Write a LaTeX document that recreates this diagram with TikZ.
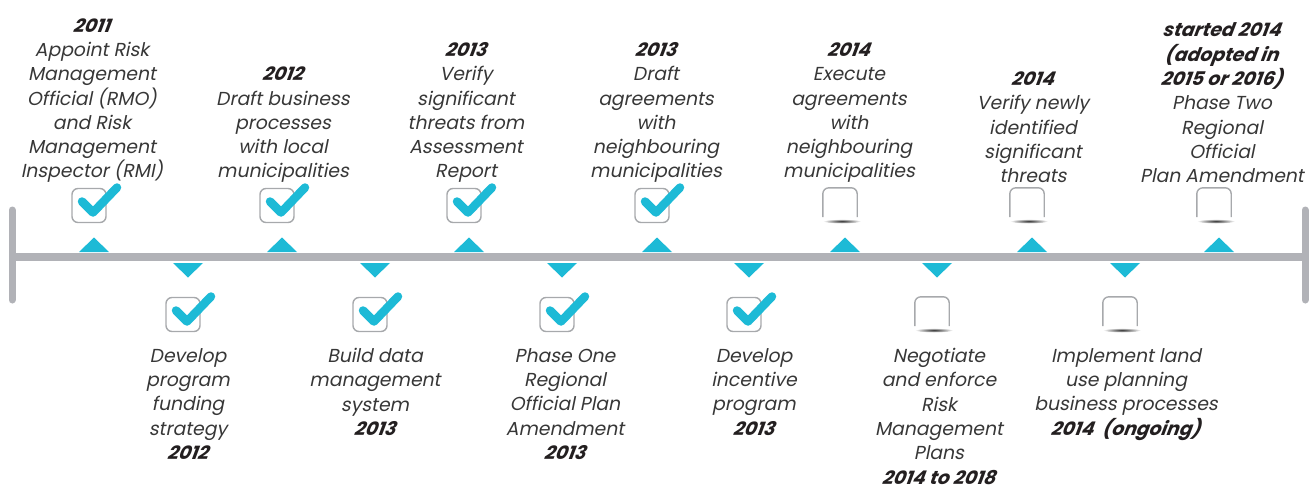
\documentclass[tikz,border=0pt]{standalone}
\usepackage{fontspec}
\setmainfont{Poppins}[AutoFakeSlant=0.2]
\newfontfamily\yrfont{Poppins Bold}[FakeSlant=0.2]
\definecolor{cyanm}{RGB}{29,186,214}
\definecolor{lineg}{RGB}{177,178,183}
\definecolor{boxg}{RGB}{167,169,172}
\definecolor{txt}{RGB}{55,55,55}
\definecolor{yr}{RGB}{35,31,32}
\newcommand{\yrs}[1]{{\yrfont\color{yr}#1}}
\begin{document}
\begin{tikzpicture}[x=1pt,y=-1pt,
  tickbox/.style={draw=boxg, line width=1.4pt, rounded corners=6pt, minimum width=34pt, minimum height=34pt, inner sep=0pt},
  emptybox/.style={minimum width=34pt, minimum height=31pt, inner sep=0pt},
  boxline/.style={draw=boxg, line width=1.4pt, rounded corners=6pt},
  tickmark/.style={draw=cyanm, line width=8.5pt, line cap=round, line join=round},
  lbl/.style={font=\fontsize{18.8}{24.3}\selectfont\itshape, align=center, text=txt, inner sep=0pt},
  marker/.style={fill=cyanm, draw=none},
  bar/.style={draw=lineg, line width=7pt, line cap=round}]
\useasboundingbox (0,0) rectangle (1312,487);
% main line
\coordinate (L) at (12,257);
\coordinate (R) at (1305,257);
\coordinate (Lt) at (12,210);
\coordinate (Lb) at (12,300);
\coordinate (Rt) at (1305,210);
\coordinate (Rb) at (1305,300);
\draw[draw=lineg, line width=8pt] (L) -- (R);
\draw[bar] (Lt) -- (Lb);
\draw[bar] (Rt) -- (Rb);
% upper markers
\foreach \x in {94,282,469,657,845,1032,1219}
  \fill[marker] (\x-15,252) -- (\x+15,252) -- (\x,237.5) -- cycle;
% lower markers
\foreach \x in {188,375,562,749,937,1125}
  \fill[marker] (\x-15,263) -- (\x+15,263) -- (\x,277.5) -- cycle;
% ticked boxes
\foreach \x/\y/\n in {94/205.5/u1,282/205.5/u2,469/205.5/u3,657/205.5/u4,188/314.5/d1,375/314.5/d2,562/314.5/d3,749/314.5/d4}{
  \node[tickbox] (\n) at (\x-5,\y) {};
  \draw[tickmark] ([shift={(-7,-4)}]\n.center) -- ([shift={(4,7)}]\n.center) -- ([shift={(28,-18)}]\n.center);
}
% empty boxes
\foreach \x/\y/\n in {845/203.5/u5,1032/203.5/u6,1219/203.5/u7,937/312.5/d5,1125/312.5/d6}{
  \node[emptybox] (\n) at (\x-5,\y) {};
  \shade[inner color=black!80, outer color=white] ([xshift=2pt,yshift=-2pt]\n.south) ellipse (19pt and 2.3pt);
  \draw[boxline] ([yshift=2pt]\n.south west) -- (\n.north west) -- (\n.north east) -- ([yshift=2pt]\n.south east);
}
% upper labels
\node[lbl, anchor=south] (t1) at (92,183) {\yrs{2011}\\Appoint Risk\\Management\\Official (RMO)\\and Risk\\Management\\Inspector (RMI)};
\node[lbl, anchor=south] (t2) at (283,183) {\yrs{2012}\\Draft business\\processes\\with local\\municipalities};
\node[lbl, anchor=south] (t3) at (466,183) {\yrs{2013}\\Verify\\significant\\threats from\\Assessment\\Report};
\node[lbl, anchor=south] (t4) at (656,183) {\yrs{2013}\\Draft\\agreements\\with\\neighbouring\\municipalities};
\node[lbl, anchor=south] (t5) at (849,183) {\yrs{2014}\\Execute\\agreements\\with\\neighbouring\\municipalities};
\node[lbl, anchor=south] (t6) at (1033,183) {\yrs{2014}\\Verify newly\\identified\\significant\\threats};
\node[lbl, anchor=south] (t7) at (1222,183) {\yrs{started 2014}\\\yrs{(adopted in}\\\yrs{2015 or 2016)}\\Phase Two\\Regional\\Official\\Plan Amendment};
% lower labels
\node[lbl, anchor=north] (b1) at (188,348) {Develop\\program\\funding\\strategy\\\yrs{2012}};
\node[lbl, anchor=north] (b2) at (375,348) {Build data\\management\\system\\\yrs{2013}};
\node[lbl, anchor=north] (b3) at (565,348) {Phase One\\Regional\\Official Plan\\Amendment\\\yrs{2013}};
\node[lbl, anchor=north] (b4) at (754,348) {Develop\\incentive\\program\\\yrs{2013}};
\node[lbl, anchor=north] (b5) at (939,348) {Negotiate\\and enforce\\Risk\\Management\\Plans\\\yrs{2014 to 2018}};
\node[lbl, anchor=north] (b6) at (1126,348) {Implement land\\use planning\\business processes\\\yrs{2014~ (ongoing)}};
\end{tikzpicture}
\end{document}
